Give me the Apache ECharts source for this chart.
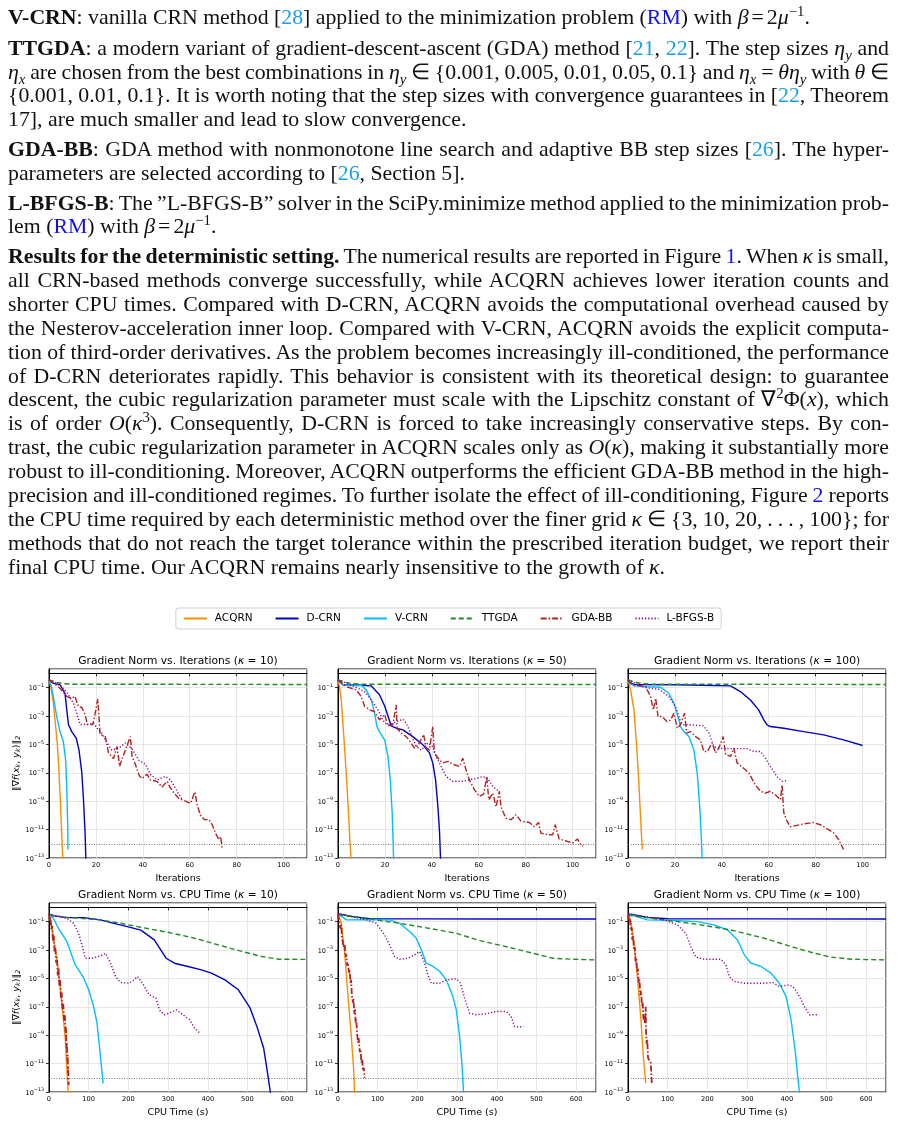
<!DOCTYPE html>
<html>
<head>
<meta charset="UTF-8">
<title>Gradient norm comparison</title>
<script src="https://cdn.jsdelivr.net/npm/echarts@6/dist/echarts.min.js"></script>
<style>
    html, body { margin: 0; padding: 0; background: #fff; }
    #page { position: relative; width: 897px; height: 1142px; overflow: hidden; }
    #chart { position: absolute; left: 0; top: 0; width: 897px; height: 1142px; }
    #text {
        position: absolute; left: 0; top: 0; width: 897px;
        font-family: "Liberation Serif", serif; font-size: 21.8px; color: #111;
    }
    .ln { position: absolute; left: 8px; white-space: nowrap; line-height: 24px; }
    .c { color: #1aa0e6; }
    .r { color: #1010f0; }
    .m { padding: 0 3px; }
    sup, sub { font-size: 68%; line-height: 0; }
</style>
</head>
<body>
<div id="page">
  <div id="chart"></div>
  <div id="text"></div>
</div>

<script>
// ---- text lines of the page (html, y centre, justified?) ----
var textLines = [
  ['<b>V-CRN</b>: vanilla CRN method [<span class="c">28</span>] applied to the minimization problem (<span class="r">RM</span>) with <i>β</i><span class="m">=</span>2<i>μ</i><sup>−1</sup>.', 18, false],
  ['<b>TTGDA</b>: a modern variant of gradient-descent-ascent (GDA) method [<span class="c">21</span>, <span class="c">22</span>]. The step sizes <i>η<sub>y</sub></i> and', 49, true],
  ['<i>η<sub>x</sub></i> are chosen from the best combinations in <i>η<sub>y</sub></i> ∈ {0.001, 0.005, 0.01, 0.05, 0.1} and <i>η<sub>x</sub></i> = <i>θη<sub>y</sub></i> with <i>θ</i> ∈', 72.5, true],
  ['{0.001, 0.01, 0.1}. It is worth noting that the step sizes with convergence guarantees in [<span class="c">22</span>, Theorem', 96.3, true],
  ['17], are much smaller and lead to slow convergence.', 120, false],
  ['<b>GDA-BB</b>: GDA method with nonmonotone line search and adaptive BB step sizes [<span class="c">26</span>]. The hyper-', 150.3, true],
  ['parameters are selected according to [<span class="c">26</span>, Section 5].', 173.8, false],
  ['<b>L-BFGS-B</b>: The ”L-BFGS-B” solver in the SciPy.minimize method applied to the minimization prob-', 203.6, true],
  ['lem (<span class="r">RM</span>) with <i>β</i><span class="m">=</span>2<i>μ</i><sup>−1</sup>.', 227, false],
  ['<b>Results for the deterministic setting.</b> The numerical results are reported in Figure <span class="r">1</span>. When <i>κ</i> is small,', 257, true],
  ['all CRN-based methods converge successfully, while ACQRN achieves lower iteration counts and', 280.9, true],
  ['shorter CPU times. Compared with D-CRN, ACQRN avoids the computational overhead caused by', 304.8, true],
  ['the Nesterov-acceleration inner loop. Compared with V-CRN, ACQRN avoids the explicit computa-', 328.7, true],
  ['tion of third-order derivatives. As the problem becomes increasingly ill-conditioned, the performance', 352.6, true],
  ['of D-CRN deteriorates rapidly. This behavior is consistent with its theoretical design: to guarantee', 376.5, true],
  ['descent, the cubic regularization parameter must scale with the Lipschitz constant of ∇<sup>2</sup>Φ(<i>x</i>), which', 400.4, true],
  ['is of order <i>O</i>(<i>κ</i><sup>3</sup>). Consequently, D-CRN is forced to take increasingly conservative steps. By con-', 424.3, true],
  ['trast, the cubic regularization parameter in ACQRN scales only as <i>O</i>(<i>κ</i>), making it substantially more', 448.2, true],
  ['robust to ill-conditioning. Moreover, ACQRN outperforms the efficient GDA-BB method in the high-', 472.1, true],
  ['precision and ill-conditioned regimes. To further isolate the effect of ill-conditioning, Figure <span class="r">2</span> reports', 496, true],
  ['the CPU time required by each deterministic method over the finer grid <i>κ</i> ∈ {3, 10, 20, . . . , 100}; for', 519.9, true],
  ['methods that do not reach the target tolerance within the prescribed iteration budget, we report their', 543.8, true],
  ['final CPU time. Our ACQRN remains nearly insensitive to the growth of <i>κ</i>.', 567.7, false]
];

// ---- chart data: [x, log10 of gradient norm] ----
var methods = ['ACQRN', 'D-CRN', 'V-CRN', 'TTGDA', 'GDA-BB', 'L-BFGS-B'];
var tolExp = -12;

// iterations, kappa = 10
var it10_acqrn = [[0,-0.46],[0.85,-1],[1.85,-2.1],[2.85,-3.74],[3.57,-5],[4.14,-6.55],[4.85,-9],[5.42,-11.25],[5.85,-13],[6,-13.6]];
var it10_dcrn = [[0,-0.5],[2,-0.7],[4.7,-0.8],[6.8,-1.4],[7.6,-2.6],[8.3,-3.6],[9.7,-4.1],[11.6,-4.56],[12.8,-5.4],[14,-7],[14.7,-8.9],[15.4,-11.3],[15.7,-13],[15.8,-13.6]];
var it10_vcrn = [[0,-0.5],[1,-0.9],[1.85,-1.63],[3.3,-3.04],[4.7,-4.1],[6.1,-4.8],[7.1,-6.1],[7.56,-8],[8,-10.8],[8.1,-12.4]];
var it10_ttgda = [[0,-0.45],[3,-0.62],[6,-0.72],[10,-0.76],[110,-0.78]];
var it10_gdabb = [[0,-0.45],[2,-0.7],[4,-0.95],[6,-1.3],[7.6,-1.63],[9.7,-1.75],[11,-1.6],[12.6,-2.34],[14,-2.4],[15.4,-2.92],[16.4,-3.6],[18.7,-3.6],[19.7,-2.8],[20.8,-1.8],[21.8,-4.3],[24,-4.45],[25.4,-5.6],[27.5,-6],[29,-5.15],[30.1,-6.55],[32.1,-5.6],[34.7,-4.45],[35.4,-5.85],[36.8,-6.4],[38.5,-7.2],[39.7,-7.4],[41.8,-7.1],[43.2,-7.5],[46,-7.6],[48.2,-8],[50.4,-7.6],[51.5,-8],[53.2,-8.4],[55.3,-8.8],[58.2,-9],[60.3,-9.15],[62.2,-8.35],[63.2,-9.3],[64.6,-10],[66.3,-10.3],[68.2,-10.3],[69.6,-10.65],[71,-11.25],[72.4,-11.7],[73.2,-11.5],[73.9,-12.4]];
var it10_lbfgs = [[0,-0.45],[2.5,-0.65],[5.4,-0.93],[8.3,-1.5],[10.4,-2.1],[11.8,-2.8],[13.3,-3.6],[16.1,-3.6],[19,-3.5],[21.1,-4],[22.5,-4.2],[24.7,-4.9],[26.8,-5.4],[29.7,-5.27],[32.5,-4.9],[35.4,-5.3],[38.2,-6.1],[41.1,-6.4],[43.2,-7.1],[46.1,-7.5],[49.6,-7.25],[51.8,-7.5],[54.6,-8.3],[56.8,-8.9]];

// iterations, kappa = 50
var it50_acqrn = [[0,-0.46],[0.7,-1],[1.4,-1.87],[2.5,-4.5],[3.5,-7],[4.4,-9.6],[5.2,-12.2],[5.7,-13.4]];
var it50_dcrn = [[0,-0.46],[2.1,-0.8],[8,-0.82],[14.2,-0.88],[17.7,-1.5],[19.9,-2.3],[21.3,-3],[22.7,-3.7],[24.8,-3.86],[27.7,-3.98],[31.9,-4.45],[36.2,-5.03],[39,-5.6],[40.4,-6.3],[41.6,-7.5],[42.6,-9.4],[43.3,-11.2],[43.7,-13],[43.8,-13.5]];
var it50_vcrn = [[0,-0.46],[2.1,-0.82],[5,-0.85],[10,-0.85],[12,-1.16],[14.2,-1.87],[15.6,-2.8],[16.6,-3.74],[17.7,-4.1],[19.9,-4.7],[21.3,-5.85],[22.3,-7.5],[23.1,-9.8],[23.7,-13],[23.8,-13.5]];
var it50_ttgda = [[0,-0.45],[3,-0.62],[6,-0.72],[10,-0.76],[110,-0.78]];
var it50_gdabb = [[0,-0.45],[3.5,-0.93],[7.8,-1.16],[9.9,-1.63],[11.3,-2.3],[13.5,-2.57],[15.6,-2.7],[17.7,-3.27],[19.9,-2.9],[21.3,-3.7],[23.4,-3.6],[24.8,-2.22],[25.2,-3.86],[26.9,-4.2],[29.1,-4.45],[31.2,-4.9],[32.6,-5.27],[34,-5.1],[36.5,-4.3],[37.5,-5.2],[39,-5.4],[40.4,-3.74],[41.1,-5.6],[43.3,-6.1],[44.7,-6.3],[46.8,-6.2],[48.9,-6.4],[51.8,-6.55],[53.2,-5.97],[54.6,-6.8],[56,-7.5],[58.2,-8.2],[60.3,-8.66],[62.1,-8.5],[63.4,-7.26],[64.3,-8.9],[66,-8.43],[67.4,-9.4],[68.8,-8.3],[69.5,-9.4],[71.6,-10.2],[73.8,-10.3],[75.9,-9.95],[78,-10.4],[81.6,-10.5],[83.7,-10.8],[85.5,-10.5],[86.5,-11.25],[89.4,-11.36],[91.5,-11.36],[92.6,-10.66],[94.3,-11.66],[97.2,-11.8],[100,-11.95],[102.1,-11.66],[103.5,-12.06],[104.5,-12.18]];
var it50_lbfgs = [[0,-0.45],[7.8,-0.98],[11.3,-1.28],[14.2,-1.87],[17,-2.57],[19.9,-3.5],[22,-3.62],[24.8,-3.4],[27.7,-3.23],[29.1,-3.5],[31.2,-4.3],[33.3,-5.15],[35.5,-5.4],[38.3,-4.9],[40.4,-5.15],[41.8,-5.85],[44,-6.55],[46.1,-7.26],[48.9,-7.6],[53.2,-7.6],[56,-7.5],[58.9,-7.4],[61.7,-7.26],[63.8,-7.4],[66,-7.96],[68.5,-8.3]];

// iterations, kappa = 100
var it100_acqrn = [[0,-0.46],[1.1,-1.16],[2.55,-2.57],[3.7,-5.15],[4.7,-7.96],[5.7,-11.24],[6.1,-12.4]];
var it100_dcrn = [[0,-0.58],[2.55,-0.78],[20,-0.8],[43.7,-0.88],[47.9,-1.28],[52.2,-1.87],[55.7,-2.57],[57.9,-3.27],[59.3,-3.62],[60.7,-3.74],[66.4,-3.86],[74.9,-4.1],[83.4,-4.33],[91.9,-4.68],[100,-5.08]];
var it100_vcrn = [[0,-0.58],[2.55,-0.88],[8,-0.93],[13.9,-0.98],[17.4,-1.4],[19.6,-2.1],[21,-2.9],[22.4,-3.74],[23.8,-4.1],[26,-4.45],[28.1,-5.4],[29.5,-7],[30.6,-9.4],[31.3,-11.7],[31.6,-13],[31.7,-13.5]];
var it100_ttgda = [[0,-0.45],[3,-0.62],[6,-0.72],[10,-0.76],[110,-0.78]];
var it100_gdabb = [[0,-0.46],[1.8,-0.81],[5.4,-0.88],[7.5,-0.93],[9.6,-1.63],[10.8,-2.57],[11.8,-1.75],[12.8,-3.04],[14.6,-3.04],[16.7,-3.4],[18.2,-3.27],[19.6,-2.8],[21,-3.86],[22.4,-3.62],[24.1,-2.8],[25,-4.2],[26.7,-4.1],[28.8,-4.45],[30.9,-4.68],[32.3,-5.5],[33.8,-5.5],[35.9,-4.9],[37.3,-5.6],[38.7,-5.27],[40.6,-4.45],[41.6,-5.7],[43.7,-5.85],[45.1,-5.27],[46.5,-6.3],[49.4,-6.7],[51.5,-7],[54.3,-7.86],[56.5,-8.3],[58.6,-8.43],[60.7,-8.3],[62.8,-8.55],[65,-8.9],[65.7,-7.86],[66.4,-9.8],[67.8,-10.4],[69.2,-10.8],[72.1,-10.7],[74.9,-10.6],[79.1,-10.5],[82,-10.66],[85.5,-11],[87.7,-11.24],[89.8,-11.7],[91.9,-12.4]];
var it100_lbfgs = [[0,-0.46],[6.8,-0.98],[13.2,-1.12],[17.4,-1.63],[20.3,-2.34],[22.4,-3.4],[23.8,-3.62],[26.7,-3.62],[32.3,-3.7],[34.5,-4.2],[36.6,-5.15],[38.7,-5.27],[43.7,-5.3],[50.8,-5.3],[53.6,-5.5],[56.5,-5.5],[58.6,-5.97],[60.7,-6.55],[63.5,-7.26],[65.7,-7.6],[67.5,-7.55]];

// cpu time, kappa = 10
var cpu10_acqrn = [[0,-0.45],[11,-2.05],[23.7,-4.4],[32.2,-6.74],[40.7,-9.1],[44.9,-11.4],[48.3,-13],[49,-13.4]];
var cpu10_dcrn = [[0,-0.45],[11,-0.6],[45,-0.72],[87.3,-0.72],[129.7,-0.88],[163.6,-1.12],[197.5,-1.35],[231.4,-1.6],[265.3,-2.29],[294.9,-3.58],[316.1,-3.93],[350,-4.16],[383.9,-4.4],[409.3,-4.63],[443.2,-5.1],[477.1,-5.8],[506.8,-7.1],[523.7,-8.38],[540.7,-9.9],[549.2,-11.4],[557.6,-13],[559,-13.5]];
var cpu10_vcrn = [[0,-0.45],[11,-0.77],[23.7,-1.47],[45,-2.4],[66.1,-4.05],[85.6,-4.87],[100,-5.8],[112.7,-7],[121,-8.15],[129.7,-10.5],[136.4,-12.4]];
var cpu10_ttgda = [[0,-0.55],[45,-0.7],[129.7,-0.88],[180.5,-1.12],[231.4,-1.4],[299.2,-1.75],[367,-2.17],[426.3,-2.64],[485.6,-3.1],[536.4,-3.46],[578.8,-3.65],[638,-3.66],[650,-3.66]];
var cpu10_gdabb = [[0,-0.45],[2,-0.9],[4,-0.7],[6,-1.6],[8,-1.3],[10,-2.4],[12,-2],[14,-3.1],[16,-2.8],[18,-3.9],[20,-3.5],[22,-4.8],[24,-4.3],[26,-5.5],[28,-5.1],[30,-6.4],[32,-6],[34,-7.2],[36,-6.8],[38,-8],[40,-7.6],[42,-9],[43,-8.5],[44,-9.9],[45,-9.5],[46,-10.8],[47,-10.4],[48,-11.7],[48.5,-11.3],[49.5,-12.5]];
var cpu10_lbfgs = [[0,-0.45],[45,-0.77],[61.9,-1.12],[74.6,-1.82],[83,-2.64],[91.5,-3.58],[108.5,-3.58],[129.7,-3.41],[142.4,-3.23],[155.1,-3.93],[167.8,-4.87],[180.5,-5.29],[201.7,-5.34],[214.4,-5.1],[222.9,-4.87],[235.6,-5.34],[252.5,-6.16],[269.5,-6.39],[278,-7.21],[290.7,-7.56],[303.4,-7.44],[320.3,-7.21],[337.3,-7.56],[354.2,-7.91],[366.9,-8.5],[379.7,-8.85]];

// cpu time, kappa = 50
var cpu50_acqrn = [[0,-0.45],[8.4,-1.12],[16.8,-3.2],[25.2,-6.27],[33.6,-9.1],[39.4,-11.4],[41.9,-13],[42.5,-13.5]];
var cpu50_dcrn = [[0,-0.45],[37.8,-0.65],[80,-0.8],[200,-0.81],[400,-0.82],[650,-0.82]];
var cpu50_vcrn = [[0,-0.45],[21,-0.88],[80,-0.86],[130,-0.88],[155.2,-1.12],[180.4,-1.7],[197.3,-2.17],[209.9,-2.99],[222.5,-3.93],[239.3,-4.16],[256.1,-4.5],[272.9,-5.1],[289.4,-6.27],[297.9,-7.21],[306.4,-9.08],[312.1,-10.96],[316.3,-13],[317,-13.5]];
var cpu50_ttgda = [[0,-0.5],[71.3,-0.77],[155.2,-1.12],[239.1,-1.52],[297.8,-1.82],[356.5,-2.34],[423.6,-2.76],[490.8,-3.23],[541.1,-3.58],[591.4,-3.65],[650,-3.7]];
var cpu50_gdabb = [[0,-0.45],[2,-0.8],[4.2,-0.9],[6,-1.5],[8,-1.2],[10,-2.1],[12.6,-2],[14,-2.8],[16.8,-2.6],[19,-3.5],[21,-3.3],[23,-4.1],[25,-3.9],[27.7,-4.6],[29,-4.4],[31.9,-5.4],[33,-5.1],[35,-6.2],[37.8,-6.7],[39,-6.4],[41,-7.5],[43,-7.2],[44.5,-8.1],[46,-7.9],[48,-8.8],[50.3,-9.5],[52,-9.2],[55,-10.2],[57,-10],[58.7,-10.9],[61,-10.7],[63,-11.5],[65,-11.3],[67.1,-12]];
var cpu50_lbfgs = [[0,-0.45],[71.3,-0.88],[96.5,-1.12],[117.4,-1.94],[130,-2.64],[142.6,-3.46],[155.2,-3.65],[176.2,-3.58],[193,-3.34],[205.5,-3.11],[215.6,-3.7],[226.5,-4.75],[234.9,-5.34],[255.9,-5.34],[272.7,-5.1],[297.9,-5.03],[308.7,-5.34],[318.8,-6.39],[331.4,-7.44],[348.2,-7.56],[373.3,-7.49],[398.5,-7.33],[423.7,-7.33],[436.2,-7.68],[444.6,-8.38],[457.2,-8.43],[467.3,-8.38]];

// cpu time, kappa = 100
var cpu100_acqrn = [[0,-0.45],[6.7,-0.9],[15.2,-2.52],[23.6,-4.87],[32,-7.68],[38.7,-10.5],[44.6,-12.37]];
var cpu100_dcrn = [[0,-0.45],[48.8,-0.7],[100,-0.8],[300,-0.81],[650,-0.82]];
var cpu100_vcrn = [[0,-0.45],[48.8,-0.88],[100,-0.9],[175,-1],[217,-1.23],[250.8,-1.59],[276,-2.29],[293,-3.34],[309.8,-3.93],[335,-4.16],[360.3,-4.63],[381.3,-5.34],[398.1,-6.27],[410.8,-7.91],[420.9,-10.02],[427.6,-11.9],[431.8,-13],[432.5,-13.5]];
var cpu100_ttgda = [[0,-0.55],[90.9,-0.88],[175.1,-1.19],[259.3,-1.59],[343.4,-2.17],[410.8,-2.76],[469.7,-3.23],[511.8,-3.5],[562.3,-3.65],[650,-3.7]];
var cpu100_gdabb = [[0,-0.45],[3,-1],[5,-0.8],[7,-1.6],[9,-1.4],[11,-2.3],[13,-2],[15,-3],[17,-2.8],[19,-3.8],[21,-3.6],[23,-4.6],[25,-4.3],[27,-5.3],[29,-5.1],[31,-6.2],[33,-5.9],[35,-6.9],[37,-6.7],[39,-7.9],[41,-7.6],[43,-8.2],[44.6,-7],[45.5,-8.8],[47,-9.6],[48.5,-9.3],[50.5,-10.6],[53,-10.5],[57,-10.9],[58.5,-11.5],[59.8,-12.4]];
var cpu100_lbfgs = [[0,-0.45],[90.9,-0.88],[124.6,-1.23],[145.6,-1.82],[158.2,-2.76],[170.9,-3.5],[191.9,-3.65],[234,-3.65],[246.6,-4.05],[255.1,-4.87],[267.7,-5.22],[292.9,-5.34],[343.4,-5.34],[364.5,-5.29],[381.3,-5.57],[406.6,-5.45],[419.2,-5.69],[431.8,-6.27],[444.4,-6.98],[457.1,-7.56],[478.1,-7.56]];

var panelData = [
    [it10_acqrn, it10_dcrn, it10_vcrn, it10_ttgda, it10_gdabb, it10_lbfgs],
    [it50_acqrn, it50_dcrn, it50_vcrn, it50_ttgda, it50_gdabb, it50_lbfgs],
    [it100_acqrn, it100_dcrn, it100_vcrn, it100_ttgda, it100_gdabb, it100_lbfgs],
    [cpu10_acqrn, cpu10_dcrn, cpu10_vcrn, cpu10_ttgda, cpu10_gdabb, cpu10_lbfgs],
    [cpu50_acqrn, cpu50_dcrn, cpu50_vcrn, cpu50_ttgda, cpu50_gdabb, cpu50_lbfgs],
    [cpu100_acqrn, cpu100_dcrn, cpu100_vcrn, cpu100_ttgda, cpu100_gdabb, cpu100_lbfgs]
];
var kappas = [10, 50, 100];

// ---- page text ----
var textBox = document.getElementById('text');
var lineWidth = 881;
textLines.forEach(function (t) {
    var el = document.createElement('div');
    el.className = 'ln';
    el.innerHTML = t[0];
    el.style.top = (t[1] - 13) + 'px';
    textBox.appendChild(el);
    if (t[2]) {
        var w = el.getBoundingClientRect().width;
        var spaces = (el.textContent.match(/ /g) || []).length;
        if (spaces) el.style.wordSpacing = ((lineWidth - w) / spaces) + 'px';
    }
});

// ---- chart ----
var colors = ['#ff8c00', '#0000cd', '#00bfff', '#228b22', '#b22222', '#8b008b'];
var dashes = ['solid', 'solid', 'solid', [5, 3], [6, 2, 1.5, 2], [1.2, 2]];
var colLeft = [49, 338, 628], rowTop = [669, 903];
var plotW = 258, plotH = 189;

var grids = [], xAxes = [], yAxes = [], titles = [], series = [];
panelData.forEach(function (lines, k) {
    var row = Math.floor(k / 3), col = k % 3;
    grids.push({
        left: colLeft[col], top: rowTop[row], width: plotW, height: plotH,
        show: true, borderColor: '#000', borderWidth: 1
    });
    xAxes.push({
        gridIndex: k, type: 'value', min: 0,
        max: row === 0 ? 110 : 650, interval: row === 0 ? 20 : 100,
        name: row === 0 ? 'Iterations' : 'CPU Time (s)',
        nameLocation: 'middle', nameGap: 16,
        nameTextStyle: { fontSize: 9.5, color: '#000', fontFamily: 'DejaVu Sans' },
        axisLine: { lineStyle: { color: '#000', width: 1 } },
        axisTick: { length: 3, lineStyle: { color: '#000', width: 0.8 } },
        axisLabel: { fontSize: 6.7, color: '#000', margin: 4, showMaxLabel: false, fontFamily: 'DejaVu Sans' },
        splitLine: { show: true, lineStyle: { color: '#e0e0e0', width: 0.8 } }
    });
    yAxes.push({
        gridIndex: k, type: 'value', min: -13, max: 0.31, interval: 2,
        name: col === 0 ? '‖∇{i|f}({i|x}{d|k}, {i|y}{d|k})‖{d|2}' : '',
        nameLocation: 'middle', nameRotate: 90, nameGap: 26,
        nameTextStyle: {
            fontSize: 9.5, color: '#000', fontFamily: 'DejaVu Sans',
            rich: {
                i: { fontSize: 9.5, fontStyle: 'italic', fontFamily: 'DejaVu Sans' },
                d: { fontSize: 6.5, fontStyle: 'italic', fontFamily: 'DejaVu Sans', verticalAlign: 'bottom', padding: [4, 0, 0, 0] }
            }
        },
        axisLine: { show: true, lineStyle: { color: '#000', width: 1 } },
        axisTick: { length: 3, lineStyle: { color: '#000', width: 0.8 } },
        axisLabel: {
            margin: 5, showMaxLabel: false,
            formatter: function (v) {
                if (Math.round(v) !== v) return '';
                return '{b|10}{s|' + (v < 0 ? '\u2212' : '') + Math.abs(v) + '}';
            },
            rich: {
                b: { fontSize: 6.5, color: '#000', fontFamily: 'DejaVu Sans', verticalAlign: 'bottom' },
                s: { fontSize: 4.8, color: '#000', fontFamily: 'DejaVu Sans', verticalAlign: 'top', padding: [0, 0, 4, 0] }
            }
        },
        splitLine: { show: true, lineStyle: { color: '#e0e0e0', width: 0.8 } }
    });
    titles.push({
        text: 'Gradient Norm vs. ' + (row === 0 ? 'Iterations' : 'CPU Time') + ' ({i|κ} = ' + kappas[col] + ')',
        left: colLeft[col] + plotW / 2, textAlign: 'center',
        top: rowTop[row] - 13,
        padding: 0,
        textStyle: {
            fontSize: 10.7, fontWeight: 'normal', color: '#000', fontFamily: 'DejaVu Sans',
            rich: { i: { fontSize: 10.7, fontStyle: 'italic', fontFamily: 'DejaVu Sans', color: '#000' } }
        }
    });
    lines.forEach(function (data, m) {
        var s = {
            name: methods[m], type: 'line', xAxisIndex: k, yAxisIndex: k,
            data: data, symbol: 'none', smooth: false, clip: true,
            lineStyle: { color: colors[m], width: m === 4 && row === 1 ? 1.8 : 1.4, type: dashes[m] },
            itemStyle: { color: colors[m] },
            z: 3 + m
        };
        if (m === 0) {
            s.markLine = {
                silent: true, symbol: 'none', label: { show: false },
                lineStyle: { color: '#555', type: [1, 1.5], width: 0.8 },
                data: [{ yAxis: tolExp }]
            };
        }
        series.push(s);
    });
});

var myChart = echarts.init(document.getElementById('chart'), null, { renderer: 'canvas' });
myChart.setOption({
    backgroundColor: '#fff',
    animation: false,
    textStyle: { fontFamily: 'DejaVu Sans' },
    title: titles,
    legend: {
        data: methods, top: 608, left: 'center',
        itemWidth: 23, itemHeight: 10, itemGap: 22,
        padding: [5, 7], borderColor: '#d0d0d0', borderWidth: 1, borderRadius: 3,
        itemStyle: { opacity: 0 },
        textStyle: { fontSize: 10.5, color: '#000', fontFamily: 'DejaVu Sans', padding: [0, 0, 0, 3] }
    },
    grid: grids,
    xAxis: xAxes,
    yAxis: yAxes,
    series: series
});
</script>
</body>
</html>
